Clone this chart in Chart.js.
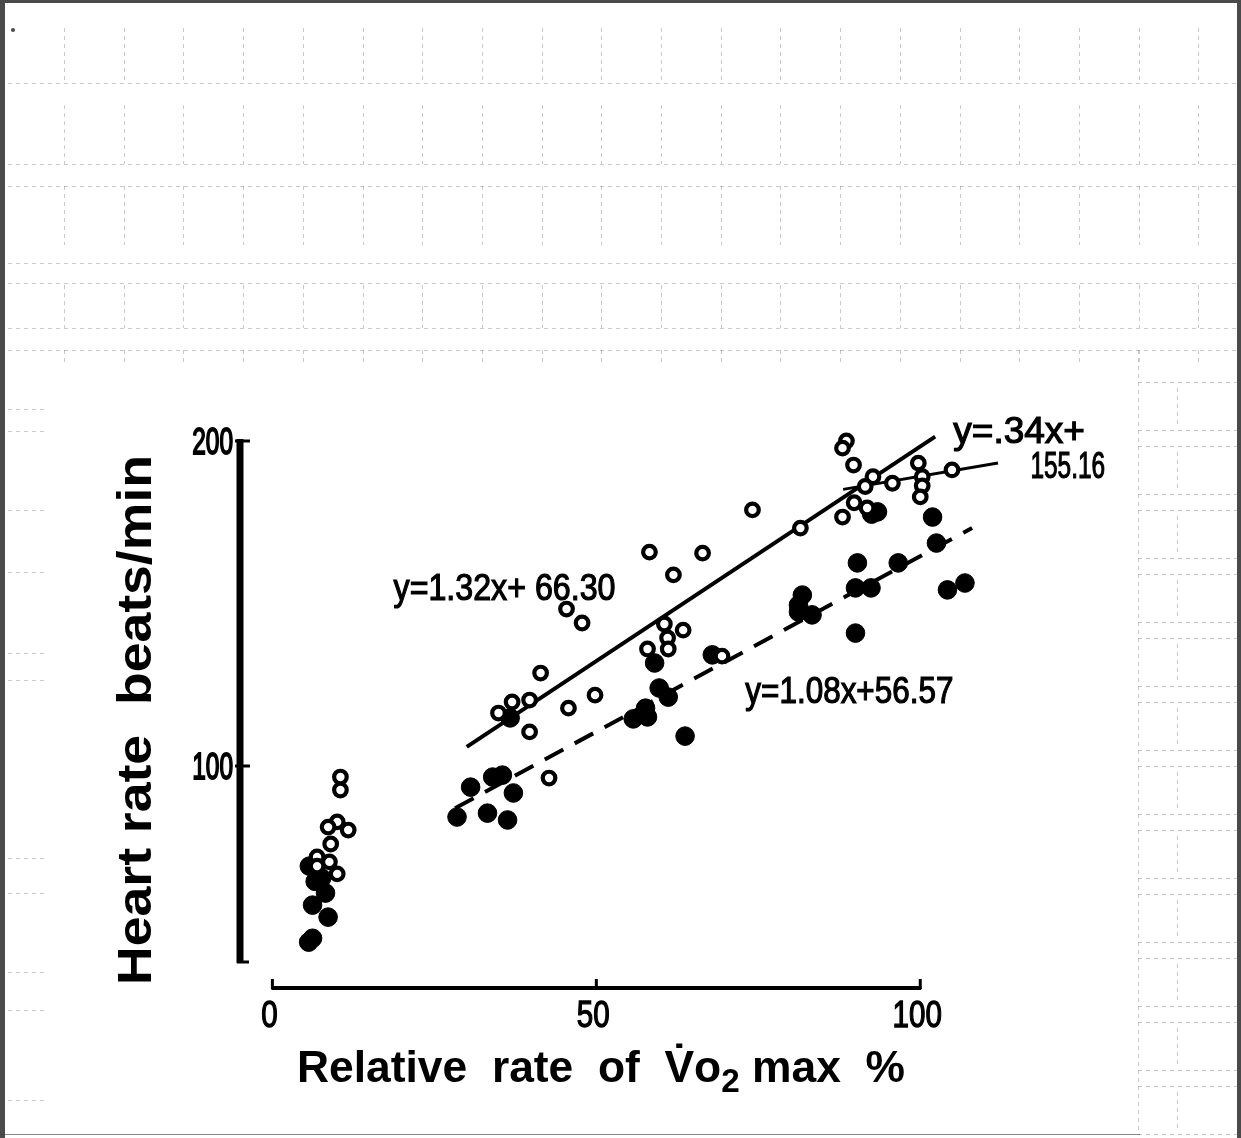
<!DOCTYPE html>
<html>
<head>
<meta charset="utf-8">
<title>Heart rate vs relative rate of VO2 max</title>
<script src="https://cdn.jsdelivr.net/npm/chart.js@4.4.1/dist/chart.umd.min.js"></script>
<style>
  html, body { margin: 0; padding: 0; background: #fff; }
  #wrap { width: 1241px; height: 1138px; position: relative; }
</style>
</head>
<body>
<div id="wrap"><canvas id="chart"></canvas></div>
<script>
// open circles
const openX = [10.5, 10.5, 10.0, 8.6, 11.7, 9.0, 6.9, 8.8, 6.9, 10.0,
  41.4, 37.0, 39.7, 34.9, 45.7, 49.8, 39.7, 42.7,
  58.2, 66.4, 61.9, 45.4, 47.8, 60.5, 63.4, 61.0, 57.9, 61.1, 69.4,
  74.1, 81.5,
  99.8, 94.6, 88.6, 88.0, 89.7, 99.7, 104.9, 92.7, 95.7, 100.3, 100.3, 100.0, 91.5, 89.8, 88.0, 91.8];
const openY = [96.6, 92.6, 82.8, 81.2, 80.3, 76.0, 72.0, 70.5, 69.2, 66.8,
  128.6, 119.7, 120.3, 116.3, 117.8, 121.8, 110.5, 96.3,
  165.8, 165.5, 158.8, 148.3, 144.0, 143.7, 141.8, 139.4, 136.0, 136.0, 133.8,
  178.8, 173.2,
  214.5, 206.5, 200.0, 197.8, 192.6, 193.2, 191.1, 189.0, 187.0, 189.0, 186.2, 182.8, 186.0, 181.0, 176.6, 179.4];

// filled circles
const filledX = [5.7, 6.6, 7.6, 8.2, 6.2, 8.6, 5.6, 6.2,
  36.7, 30.6, 34.0, 35.5, 37.2, 28.5, 33.2, 36.3,
  59.0, 67.9, 59.7, 61.1, 57.6, 55.7, 57.9, 63.7,
  93.4, 92.5, 101.9, 102.5, 90.3, 96.6, 81.8, 81.2, 81.2, 83.3, 90.0, 92.4, 104.2, 106.9, 90.0];
const filledY = [69.2, 64.5, 65.5, 60.9, 57.2, 53.5, 45.8, 47.0,
  114.8, 93.5, 96.6, 97.2, 91.7, 84.3, 85.5, 83.4,
  131.7, 134.2, 124.0, 121.2, 117.8, 114.5, 115.1, 109.2,
  178.2, 177.5, 176.6, 168.6, 162.5, 162.5, 152.6, 149.5, 147.4, 146.5, 154.8, 154.8, 154.2, 156.3, 140.9];

// regression lines as printed on the figure
const fitSlope = [1.32, 1.08, 0.34];
const fitIntercept = [66.30, 56.57, 155.16];
const fitFrom = [30, 28.2, 88.1];
const fitTo = [102.3, 108, 112];

const xTicks = [0, 50, 100];
const yTicks = [100, 200];

const SANS = "'Liberation Sans', Arial, sans-serif";

function pts(xs, ys) {
  return xs.map((x, i) => ({ x: x, y: ys[i] }));
}
function fitLine(i) {
  return [fitFrom[i], fitTo[i]].map(x => ({ x: x, y: fitSlope[i] * x + fitIntercept[i] }));
}

// text squeezed horizontally by k, a little thickened like the old lettering
function squeezed(ctx, text, x, y, size, k, align, thick) {
  ctx.font = size + 'px ' + SANS;
  const w = ctx.measureText(text).width * k;
  let left = x;
  if (align === 'center') left = x - w / 2;
  if (align === 'right') left = x - w;
  ctx.save();
  ctx.translate(left, y);
  ctx.scale(k, 1);
  ctx.textAlign = 'left';
  ctx.lineWidth = thick || 1.1;
  ctx.fillText(text, 0, 0);
  ctx.strokeText(text, 0, 0);
  ctx.restore();
}

// faint graph paper behind the figure (scan look)
const paperPlugin = {
  id: 'paper',
  beforeDraw(chart) {
    const ctx = chart.ctx, w = chart.width, h = chart.height;
    ctx.save();
    ctx.fillStyle = '#ffffff';
    ctx.fillRect(0, 0, w, h);
    ctx.strokeStyle = 'rgba(90,90,90,0.33)';
    ctx.lineWidth = 1;
    ctx.setLineDash([4, 4]);
    const hl = (x1, x2, y) => { ctx.beginPath(); ctx.moveTo(x1, y + 0.5); ctx.lineTo(x2, y + 0.5); ctx.stroke(); };
    const vl = (x, y1, y2) => { ctx.beginPath(); ctx.moveTo(x + 0.5, y1); ctx.lineTo(x + 0.5, y2); ctx.stroke(); };

    [83, 164, 186, 263, 283, 328, 350].forEach(y => hl(8, w - 4, y));
    const rows = [[28, 83], [105, 164], [186, 245], [285, 328], [350, 362]];
    for (let x = 64; x < w - 10; x += 59.7) rows.forEach(r => vl(Math.round(x), r[0], r[1]));

    // right strip
    vl(1138, 350, h - 8);
    for (let y = 382; y < h - 20; y += 64) {
      hl(1138, w - 4, y);
      hl(1138, w - 4, y + 48);
      vl(1177, y + 6, y + 44);
    }
    // left strip
    [409, 431, 510, 572, 653, 680, 858, 893, 972, 1010, 1100].forEach(y => hl(8, 48, y));

    ctx.setLineDash([]);
    ctx.fillStyle = '#4a4a4a';
    ctx.fillRect(0, 0, w, 3);
    ctx.fillRect(0, 0, 5, h);
    ctx.fillRect(w - 4, 0, 4, h);
    ctx.strokeStyle = 'rgba(60,60,60,0.6)';
    hl(0, 1140, h - 4);
    ctx.beginPath();
    ctx.arc(13, 30, 2, 0, Math.PI * 2);
    ctx.fill();
    ctx.restore();
  }
};

// hand-drawn style axes, tick labels, titles and fit equations
const axesPlugin = {
  id: 'paperAxes',
  afterDraw(chart) {
    const ctx = chart.ctx;
    const xs = chart.scales.x, ys = chart.scales.y;
    const seg = (x1, y1, x2, y2) => { ctx.beginPath(); ctx.moveTo(x1, y1); ctx.lineTo(x2, y2); ctx.stroke(); };
    ctx.save();
    ctx.strokeStyle = '#000';
    ctx.fillStyle = '#000';
    ctx.lineCap = 'butt';

    // y axis bar
    const ax = xs.left;
    ctx.lineWidth = 7;
    seg(ax, ys.getPixelForValue(200) - 2, ax, ys.bottom + 2);
    ctx.lineWidth = 3;
    yTicks.forEach(v => {
      const py = ys.getPixelForValue(v);
      seg(ax - 5, py, ax + 10, py);
    });
    seg(ax - 3, ys.bottom + 1, ax + 9, ys.bottom + 1);

    // x axis bar, below the plot
    const ay = ys.bottom + 27;
    ctx.lineWidth = 4;
    seg(xs.getPixelForValue(0) - 1, ay, xs.getPixelForValue(100) + 1, ay);
    ctx.lineWidth = 3;
    xTicks.forEach(v => {
      const px = xs.getPixelForValue(v);
      seg(px, ay + 1, px, ay - 9);
    });

    // tick labels through the scales
    ctx.textBaseline = 'alphabetic';
    xTicks.forEach(v => squeezed(ctx, String(v), xs.getPixelForValue(v) - 3, ay + 39, 37, 0.8, 'center', 1.3));
    yTicks.forEach(v => squeezed(ctx, String(v), ax - 7, ys.getPixelForValue(v) + 13, 36, 0.68, 'right', 1.8));

    // axis titles
    ctx.save();
    ctx.translate(151, 720);
    ctx.rotate(-Math.PI / 2);
    ctx.font = 'bold 49px ' + SANS;
    const tw = ctx.measureText('Heart rate  beats/min').width;
    ctx.scale(530 / tw, 1);
    ctx.textAlign = 'center';
    ctx.fillText('Heart rate  beats/min', 0, 0);
    ctx.restore();

    const parts = [
      { t: 'Relative  rate  of  V\u0307o', f: 'bold 44px ' + SANS, dy: 0 },
      { t: '2', f: 'bold 33px ' + SANS, dy: 10 },
      { t: ' max  %', f: 'bold 44px ' + SANS, dy: 0 }
    ];
    let total = 0;
    parts.forEach(p => { ctx.font = p.f; p.w = ctx.measureText(p.t).width; total += p.w; });
    ctx.save();
    ctx.translate(297, 1082);
    ctx.scale(608 / total, 1);
    let cx = 0;
    parts.forEach(p => { ctx.font = p.f; ctx.fillText(p.t, cx, p.dy); cx += p.w; });
    ctx.restore();

    // fit equations, placed in data units
    const note = (text, xv, yv, k) =>
      squeezed(ctx, text, xs.getPixelForValue(xv), ys.getPixelForValue(yv), 37, k, 'left', 1.2);
    note('y=1.32x+ 66.30', 18.7, 151.1, 0.87);
    note('y=1.08x+56.57', 73.0, 119.4, 0.85);
    note('y=.34x+', 105.1, 199.4, 1.0);
    note('155.16', 117.0, 188.6, 0.66);
    ctx.restore();
  }
};

new Chart(document.getElementById('chart'), {
  type: 'scatter',
  data: {
    datasets: [
      {
        label: 'open',
        data: pts(openX, openY),
        pointStyle: 'circle',
        pointRadius: 6.3,
        pointBorderWidth: 4.2,
        pointBorderColor: '#000',
        pointBackgroundColor: '#fff',
        clip: false
      },
      {
        label: 'filled',
        data: pts(filledX, filledY),
        pointStyle: 'circle',
        pointRadius: 9.3,
        pointBorderWidth: 1,
        pointBorderColor: '#000',
        pointBackgroundColor: '#000',
        clip: false
      },
      {
        label: 'fit open',
        type: 'line',
        data: fitLine(0),
        borderColor: '#000',
        borderWidth: 4,
        pointRadius: 0,
        clip: false
      },
      {
        label: 'fit filled',
        type: 'line',
        data: fitLine(1),
        borderColor: '#000',
        borderWidth: 4,
        borderDash: [21, 13],
        pointRadius: 0,
        clip: false
      },
      {
        label: 'fit top',
        type: 'line',
        data: fitLine(2),
        borderColor: '#000',
        borderWidth: 3,
        pointRadius: 0,
        clip: false
      }
    ]
  },
  options: {
    responsive: true,
    maintainAspectRatio: false,
    animation: false,
    events: [],
    layout: { padding: { left: 0, right: 243, top: 441, bottom: 44 } },
    plugins: {
      legend: { display: false },
      tooltip: { enabled: false }
    },
    scales: {
      x: {
        type: 'linear',
        min: -5,
        max: 112,
        afterBuildTicks: s => { s.ticks = xTicks.map(v => ({ value: v })); },
        afterFit: s => { s.height = 133; },
        grid: { display: false, drawTicks: false },
        border: { display: false },
        ticks: { display: false }
      },
      y: {
        type: 'linear',
        min: 40,
        max: 200,
        afterBuildTicks: s => { s.ticks = yTicks.map(v => ({ value: v })); },
        afterFit: s => { s.width = 240; },
        grid: { display: false, drawTicks: false },
        border: { display: false },
        ticks: { display: false }
      }
    }
  },
  plugins: [paperPlugin, axesPlugin]
});
</script>
</body>
</html>
